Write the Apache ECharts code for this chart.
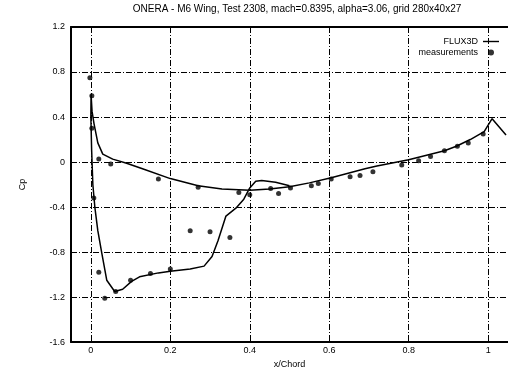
<!DOCTYPE html>
<html>
<head>
<meta charset="utf-8">
<script src="https://cdn.jsdelivr.net/npm/echarts@6/dist/echarts.min.js"></script>
<style>html,body{margin:0;padding:0;background:#fff}#c{width:508px;height:374px}</style>
</head>
<body>
<div id="c"></div>
<script>
const titleText = 'ONERA - M6 Wing, Test 2308, mach=0.8395, alpha=3.06, grid 280x40x27';
const xTicks = [0, 0.2, 0.4, 0.6, 0.8, 1];
const yTicks = [-1.6, -1.2, -0.8, -0.4, 0, 0.4, 0.8, 1.2];

// FLUX3D computed Cp (upper surface from mid-chord to leading edge, then lower surface to trailing edge)
const fluxX = [0.5, 0.465, 0.43, 0.415, 0.4, 0.385, 0.365, 0.34, 0.32, 0.305, 0.285, 0.25, 0.2, 0.17, 0.1225, 0.1025, 0.08, 0.06, 0.04, 0.0275, 0.0175, 0.01, 0.005, 0.002, 0.0, 0.0005,
  0.003, 0.008, 0.0175, 0.03, 0.055, 0.09, 0.13, 0.2, 0.27, 0.33, 0.4, 0.45, 0.5, 0.55, 0.605, 0.69, 0.72, 0.8, 0.855, 0.89, 0.92, 0.955, 0.99, 1.01, 1.045];
const fluxCp = [-0.21, -0.18, -0.165, -0.17, -0.23, -0.33, -0.41, -0.48, -0.70, -0.84, -0.925, -0.95, -0.97, -0.985, -1.02, -1.06, -1.13, -1.15, -1.05, -0.81, -0.61, -0.4, -0.2, 0.1, 0.4, 0.6,
  0.45, 0.34, 0.17, 0.07, 0.026, -0.01, -0.06, -0.147, -0.21, -0.24, -0.25, -0.24, -0.22, -0.185, -0.14, -0.06, -0.035, 0.02, 0.07, 0.1, 0.14, 0.2, 0.27, 0.385, 0.24];

// measurements
const measX = [-0.0025, 0.0025, 0.0025, 0.0075, 0.02, 0.05, 0.02, 0.035, 0.0625, 0.1, 0.15, 0.2, 0.17, 0.27, 0.3725, 0.4, 0.25, 0.3, 0.35,
  0.4525, 0.4725, 0.5025, 0.555, 0.5725, 0.605, 0.6525, 0.6775, 0.71, 0.7825, 0.825, 0.855, 0.89, 0.9225, 0.95, 0.9875];
const measCp = [0.75, 0.59, 0.30, -0.32, 0.026, -0.017, -0.98, -1.21, -1.15, -1.05, -0.99, -0.95, -0.15, -0.225, -0.27, -0.29, -0.61, -0.62, -0.67,
  -0.235, -0.28, -0.23, -0.21, -0.19, -0.15, -0.13, -0.12, -0.086, -0.026, 0.012, 0.05, 0.1, 0.14, 0.17, 0.25];

const fluxData = fluxX.map((x, i) => [x, fluxCp[i]]);
const measData = measX.map((x, i) => [x, measCp[i]]);

const font = 'Liberation Sans, Arial, sans-serif';
const grid = { left: 71, right: -3, top: 27, bottom: 23 };
const dashGrid = { show: true, lineStyle: { color: '#000', width: 1, type: [6, 2, 1, 2] } };

const chart = echarts.init(document.getElementById('c'), null, { renderer: 'canvas' });
chart.setOption({
  animation: false,
  backgroundColor: '#fff',
  title: {
    text: titleText, left: 292, top: -1, textAlign: 'center',
    textStyle: { fontFamily: font, fontSize: 10, fontWeight: 'normal', color: '#000' }
  },
  legend: {
    orient: 'vertical', right: 9, top: 37, align: 'right', itemGap: 2, padding: 0,
    itemWidth: 16, itemHeight: 6,
    textStyle: { fontFamily: font, fontSize: 9, color: '#000' },
    data: [
      { name: 'FLUX3D', icon: 'path://M0,0M0,2.3H16V3.7H0ZM16,6', itemStyle: { color: '#000' } },
      { name: 'measurements', icon: 'circle', itemStyle: { color: '#000' } }
    ]
  },
  grid: grid,
  xAxis: [{
    type: 'value', min: -0.05, max: 1.05,
    name: 'x/Chord', nameLocation: 'middle', nameGap: 13,
    nameTextStyle: { fontFamily: font, fontSize: 9, color: '#000' },
    axisLine: { show: true, onZero: false, lineStyle: { color: '#000', width: 2 } },
    axisTick: { show: true, inside: true, length: 4, customValues: xTicks, lineStyle: { color: '#000' } },
    axisLabel: { customValues: xTicks, fontFamily: font, fontSize: 9, color: '#000', margin: 4,
      formatter: v => String(Math.round(v * 10) / 10) },
    splitLine: dashGrid
  }, {
    type: 'value', min: -0.05, max: 1.05, position: 'top',
    axisLine: { show: true, onZero: false, lineStyle: { color: '#000', width: 2 } },
    axisTick: { show: false }, axisLabel: { show: false }, splitLine: { show: false }
  }],
  yAxis: {
    type: 'value', min: -1.6, max: 1.2, interval: 0.4,
    name: 'Cp', nameLocation: 'middle', nameGap: 44, nameRotate: 90,
    nameTextStyle: { fontFamily: font, fontSize: 9, color: '#000' },
    axisLine: { show: true, onZero: false, lineStyle: { color: '#000', width: 2 } },
    axisTick: { show: true, inside: true, length: 4, lineStyle: { color: '#000' } },
    axisLabel: { fontFamily: font, fontSize: 9, color: '#000', margin: 6,
      formatter: v => String(Math.round(v * 10) / 10) },
    splitLine: dashGrid
  },
  series: [{
    name: 'FLUX3D', type: 'line', data: fluxData, showSymbol: false, symbol: 'none',
    smooth: false, clip: true,
    lineStyle: { color: '#000', width: 1.5 }, itemStyle: { color: '#000' }
  }, {
    name: 'measurements', type: 'scatter', data: measData, symbol: 'circle', symbolSize: 5,
    itemStyle: { color: '#000' }
  }]
});
</script>
</body>
</html>
